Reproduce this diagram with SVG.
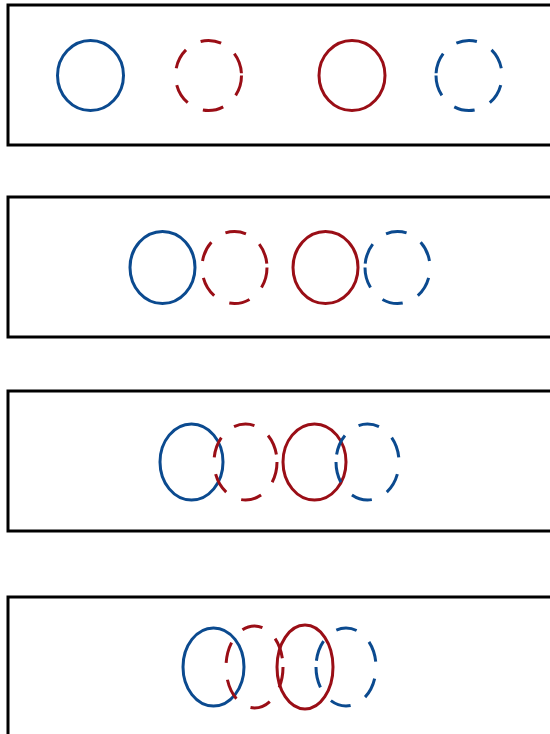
<svg xmlns="http://www.w3.org/2000/svg" width="550" height="734" viewBox="0 0 550 734">
<style>
.frame{fill:none;stroke:#000;stroke-width:3}
.b{fill:none;stroke:#0b4a8f;stroke-width:3}
.r{fill:none;stroke:#9a0e16;stroke-width:3}
.d{stroke-dasharray:21 17}
</style>
<rect width="550" height="734" fill="#fff"/>
<g id="panel1">
<rect class="frame" x="8" y="5" width="560" height="140"/>
<ellipse class="b" cx="90.5" cy="75.5" rx="33" ry="35"/>
<path class="r d" d="M241.5,75.5 A33,35 0 1 1 175.5,75.5 A33,35 0 1 1 241.5,75.5"/>
<ellipse class="r" cx="352" cy="75.5" rx="33" ry="35"/>
<path class="b d" d="M436,75.5 A33,35 0 1 0 502,75.5 A33,35 0 1 0 436,75.5"/>
</g>
<g id="panel2">
<rect class="frame" x="8" y="197" width="560" height="140"/>
<ellipse class="b" cx="162.5" cy="267.5" rx="32.5" ry="36"/>
<path class="r d" d="M267,267.5 A32.5,36 0 1 1 202,267.5 A32.5,36 0 1 1 267,267.5"/>
<ellipse class="r" cx="325.5" cy="267.5" rx="32.5" ry="36"/>
<path class="b d" d="M365,267.5 A32.5,36 0 1 0 430,267.5 A32.5,36 0 1 0 365,267.5"/>
</g>
<g id="panel3">
<rect class="frame" x="8" y="391" width="560" height="140"/>
<ellipse class="b" cx="191.5" cy="462" rx="31.5" ry="38"/>
<path class="r d" d="M277,462 A31.5,38 0 1 1 214,462 A31.5,38 0 1 1 277,462"/>
<ellipse class="r" cx="314.5" cy="462" rx="31.5" ry="38"/>
<path class="b d" d="M336,462 A31.5,38 0 1 0 399,462 A31.5,38 0 1 0 336,462"/>
</g>
<g id="panel4">
<rect class="frame" x="8" y="597" width="560" height="160"/>
<ellipse class="b" cx="213.5" cy="667" rx="30.5" ry="39"/>
<path class="r d" d="M283,667 A28.5,41 0 1 1 226,667 A28.5,41 0 1 1 283,667"/>
<ellipse class="r" cx="305" cy="667" rx="28" ry="42"/>
<path class="b d" d="M316,667 A30,39 0 1 0 376,667 A30,39 0 1 0 316,667"/>
</g>
</svg>
